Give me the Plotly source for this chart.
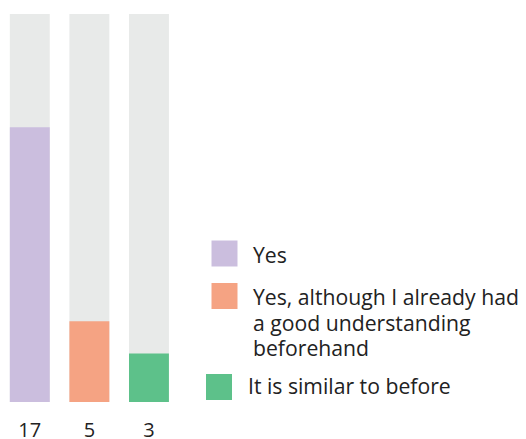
import plotly.graph_objects as go

categories = ["Yes", "Yes, although I already had\na good understanding\nbeforehand", "It is similar to before"]
values = [17, 5, 3]
total = 24
colors = ["#CBBEDE", "#F5A383", "#5DC18A"]
track_color = "#E8EAE9"
text_color = "#222222"
font_family = "Open Sans"

W, H = 526, 439
x_ticks = [0, 1, 2]

fig = go.Figure()
fig.add_trace(go.Bar(x=x_ticks, y=[total] * len(values), marker=dict(color=track_color, line_width=0),
                     showlegend=False, hoverinfo="skip"))
fig.add_trace(go.Bar(x=x_ticks, y=values, marker=dict(color=colors, line_width=0),
                     showlegend=False))

# plot area geometry (pixels)
top, bottom = 14, 402
ph = bottom - top

def py(p):
    return (bottom - p) / ph

# custom legend
legend_items = [
    dict(sq=(211.5, 240.5), tx=(251, 254.5)),
    dict(sq=(211.5, 283), tx=(251, 296.5)),
    dict(sq=(206, 374), tx=(246, 385)),
]
line_gap = 25.5
shapes = []
annotations = []
size = 26
for item, c, label in zip(legend_items, colors, categories):
    x0, y0 = item["sq"]
    shapes.append(dict(type="rect", xref="paper", yref="paper",
                       x0=x0 / W, x1=(x0 + size) / W, y0=py(y0 + size), y1=py(y0),
                       fillcolor=c, line_width=0))
    tx, ty = item["tx"]
    for k, line in enumerate(label.split("\n")):
        annotations.append(dict(xref="paper", yref="paper", x=tx / W, y=py(ty + k * line_gap),
                                xanchor="left", yanchor="middle", align="left",
                                text=line, showarrow=False,
                                font=dict(family=font_family, size=21.2, color=text_color)))

fig.update_layout(
    width=W, height=H,
    margin=dict(l=0, r=0, t=top, b=H - bottom, autoexpand=False),
    paper_bgcolor="white", plot_bgcolor="white",
    barmode="overlay", bargap=0.33,
    showlegend=False,
    shapes=shapes, annotations=annotations,
    xaxis=dict(domain=[0, 178.75 / W], range=[-0.5, 2.5], tickvals=x_ticks,
               ticktext=[str(v) for v in values], showgrid=False, zeroline=False,
               showline=False, ticks="", ticklabelstandoff=14, automargin=False,
               tickfont=dict(family=font_family, size=20, color=text_color)),
    yaxis=dict(range=[0, total], visible=False, showgrid=False, automargin=False),
)

fig.write_html("out.html")
